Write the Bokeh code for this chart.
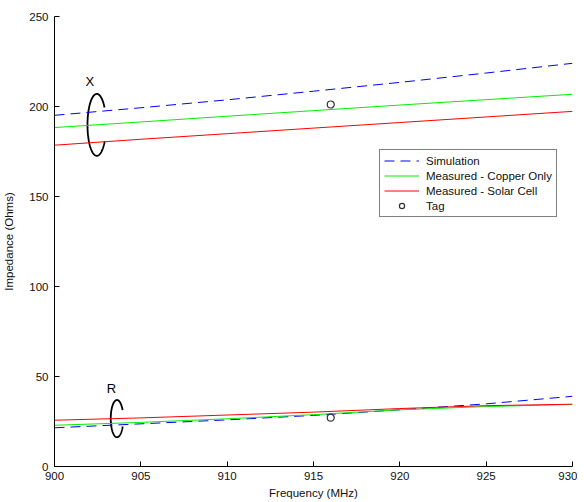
import numpy as np
from bokeh.plotting import figure
from bokeh.models import Legend, LegendItem, Range1d, FixedTicker
from bokeh.core.properties import value
from bokeh.embed import file_html
from bokeh.resources import INLINE

# ---- data ----
freq = [900, 905, 910, 915, 920, 925, 930]
sim_x = [195.1, 199.3, 203.7, 208.5, 213.4, 218.6, 224.0]
cu_x = [188.3, 191.4, 194.6, 197.7, 200.8, 203.8, 206.8]
sc_x = [178.5, 181.8, 184.9, 188.0, 191.1, 194.2, 197.3]
sim_r = [21.5, 23.7, 25.9, 28.4, 31.5, 34.8, 39.0]
cu_r = [22.9, 24.5, 26.5, 28.8, 31.5, 33.3, 34.5]
sc_r = [25.7, 27.0, 28.6, 30.2, 32.2, 33.8, 34.6]
tag_freq = [916, 916]
tag_vals = [201.1, 27.1]
x_ticks = [900, 905, 910, 915, 920, 925, 930]
y_ticks = [0, 50, 100, 150, 200, 250]

FONT = "Liberation Sans"

p = figure(width=577, height=501, output_backend="svg", toolbar_location=None,
           x_range=Range1d(900, 930), y_range=Range1d(0, 250),
           min_border_left=51, min_border_right=5, min_border_top=16, min_border_bottom=33)
p.outline_line_color = None
p.xgrid.visible = False
p.ygrid.visible = False

for ax in (p.xaxis[0], p.yaxis[0]):
    ax.major_tick_in = 5
    ax.major_tick_out = 0
    ax.minor_tick_line_color = None
    ax.axis_line_color = "black"
    ax.major_tick_line_color = "black"
    ax.major_label_text_font = FONT
    ax.major_label_text_font_size = "11.5px"
    ax.major_label_text_color = "#111111"
    ax.axis_label_text_font = FONT
    ax.axis_label_text_font_size = "11.5px"
    ax.axis_label_text_font_style = "normal"
    ax.axis_label_text_color = "#111111"

p.xaxis.ticker = FixedTicker(ticks=x_ticks)
p.yaxis.ticker = FixedTicker(ticks=y_ticks)
p.xaxis.axis_label = "Frequency (MHz)"
p.yaxis.axis_label = "Impedance (Ohms)"
p.xaxis.major_label_standoff = 5
p.yaxis.major_label_standoff = 6
p.xaxis.axis_label_standoff = 4
p.yaxis.axis_label_standoff = 11

# ---- ellipse annotations ("X" and "R" rings) ----
def ring(cx, cy, a, b, start_deg, end_deg):
    t = np.radians(np.linspace(start_deg, end_deg, 120))
    return cx + a * np.cos(t), cy + b * np.sin(t)

ex, ey = ring(902.45, 189.8, 0.54, 17.2, 34, 328)
p.line(ex, ey, line_color="black", line_width=1.8)
rx, ry = ring(903.62, 26.6, 0.363, 10.35, 27, 335)
p.line(rx, ry, line_color="black", line_width=1.8)
p.text(x=[902.05, 903.3], y=[213.9, 43.3], text=["X", "R"], text_font=value(FONT),
       text_font_size="13px", text_align="center", text_baseline="middle", text_color="black")

# ---- series ----
l_sim = p.line(freq, sim_x, line_color="#0000ff", line_width=1, line_dash="10 6")
p.line(freq, sim_r, line_color="#0000ff", line_width=1, line_dash="10 6")
l_cu = p.line(freq, cu_x, line_color="#00f000", line_width=1)
p.line(freq, cu_r, line_color="#00f000", line_width=1)
l_sc = p.line(freq, sc_x, line_color="#ff0000", line_width=1)
p.line(freq, sc_r, line_color="#ff0000", line_width=1)
tag = p.scatter(tag_freq, tag_vals, marker="circle", size=7, fill_color=None,
                line_color="#333333", line_width=1.2)

legend = Legend(items=[
    LegendItem(label="Simulation", renderers=[l_sim]),
    LegendItem(label="Measured - Copper Only", renderers=[l_cu]),
    LegendItem(label="Measured - Solar Cell", renderers=[l_sc]),
    LegendItem(label="Tag", renderers=[tag]),
], location=(325, 249))
legend.label_text_font = FONT
legend.label_text_font_size = "11.5px"
legend.label_text_color = "#111111"
legend.glyph_width = 35
legend.glyph_height = 13
legend.label_height = 13
legend.label_standoff = 7
legend.spacing = 2
legend.padding = 4
legend.margin = 0
legend.border_line_color = "black"
legend.border_line_width = 1
legend.background_fill_alpha = 1
p.add_layout(legend, "center")

open("out.html", "w").write(file_html(p, INLINE))
